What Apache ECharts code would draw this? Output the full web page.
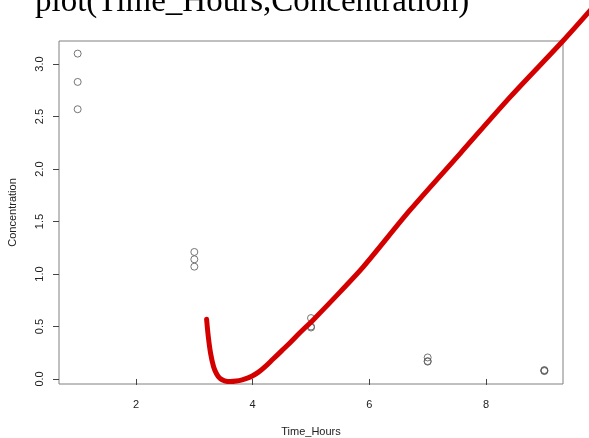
<!DOCTYPE html>
<html>
<head>
<meta charset="utf-8">
<script src="https://cdn.jsdelivr.net/npm/echarts@6/dist/echarts.min.js"></script>
<style>html,body{margin:0;padding:0;background:#fff;}#c{width:589px;height:438px;}</style>
</head>
<body>
<div id="c"></div>
<script>
var titleText = 'plot(Time_Hours,Concentration)';
var xName = 'Time_Hours';
var yName = 'Concentration';
var xTicks = [2, 4, 6, 8];
var yTicks = [0, 0.5, 1, 1.5, 2, 2.5, 3];
var timeHours = [1, 1, 1, 3, 3, 3, 5, 5, 5, 7, 7, 7, 9, 9, 9];
var concentration = [3.10, 2.83, 2.57, 1.21, 1.14, 1.07, 0.58, 0.50, 0.49, 0.205, 0.17, 0.165, 0.085, 0.08, 0.075];
var curveX = [3.21, 3.24, 3.28, 3.33, 3.38, 3.44, 3.52, 3.62, 3.72, 3.82, 3.92, 4.0, 4.1, 4.2, 4.35, 4.5, 4.65, 4.8, 5.05, 5.5, 5.9, 6.7, 7.56, 8.42, 9.31, 9.8];
var curveY = [0.57, 0.40, 0.24, 0.117, 0.05, 0.005, -0.018, -0.025, -0.02, -0.008, 0.01, 0.03, 0.065, 0.11, 0.19, 0.27, 0.35, 0.435, 0.57, 0.83, 1.07, 1.61, 2.15, 2.69, 3.215, 3.52];

var pts = timeHours.map(function (x, i) { return [x, concentration[i]]; });
var curve = curveX.map(function (x, i) { return [x, curveY[i]]; });

// layout of the plot box (pixels) and its axis ranges
var W = 589, H = 438;
var gL = 59, gR = 26, gT = 41, gB = 54;
var xMin = 0.68, xMax = 9.32, yMin = -0.048, yMax = 3.22;
// an invisible overlay grid covering the whole page with the same data->pixel mapping,
// so the fitted curve can run outside the plot box like in the original
var ux = (xMax - xMin) / (W - gL - gR), uy = (yMax - yMin) / (H - gT - gB);
var oxMin = xMin - gL * ux, oxMax = xMax + gR * ux;
var oyMin = yMin - gB * uy, oyMax = yMax + gT * uy;

var chart = echarts.init(document.getElementById('c'));
chart.setOption({
  animation: false,
  backgroundColor: '#fff',
  textStyle: { fontFamily: 'Liberation Sans, Arial, sans-serif' },
  graphic: [{
    type: 'text', x: 35, y: 19,
    style: { text: titleText, font: '33px "Liberation Serif", "Times New Roman", serif', fill: '#000', verticalAlign: 'bottom', align: 'left' }
  }],
  grid: [
    { left: gL, right: gR, top: gT, bottom: gB, outerBoundsMode: 'none', containLabel: false, show: true, borderColor: '#808080', borderWidth: 1, backgroundColor: 'transparent' },
    { left: 0, right: 0, top: 0, bottom: 0, outerBoundsMode: 'none', containLabel: false, show: false }
  ],
  xAxis: [{
    type: 'value', min: xMin, max: xMax, gridIndex: 0,
    name: xName, nameLocation: 'middle', nameGap: 42,
    nameTextStyle: { fontSize: 11, color: '#222' },
    axisLine: { show: false },
    splitLine: { show: false },
    axisTick: { show: true, length: 6, lineStyle: { color: '#444' }, customValues: xTicks },
    axisLabel: { fontSize: 11, color: '#222', margin: 15, customValues: xTicks, formatter: function (v) { return String(v); } }
  }, {
    type: 'value', min: oxMin, max: oxMax, gridIndex: 1, show: false
  }],
  yAxis: [{
    type: 'value', min: yMin, max: yMax, gridIndex: 0,
    name: yName, nameLocation: 'middle', nameGap: 41, nameRotate: 90,
    nameTextStyle: { fontSize: 11, color: '#222' },
    axisLine: { show: false },
    splitLine: { show: false },
    axisTick: { show: true, length: 6, lineStyle: { color: '#444' }, customValues: yTicks },
    axisLabel: { fontSize: 11, color: '#222', margin: 14, rotate: 90, customValues: yTicks, formatter: function (v) { return v.toFixed(1); } }
  }, {
    type: 'value', min: oyMin, max: oyMax, gridIndex: 1, show: false
  }],
  series: [{
    type: 'scatter', data: pts, symbol: 'circle', symbolSize: 7, xAxisIndex: 0, yAxisIndex: 0,
    itemStyle: { color: 'rgba(0,0,0,0)', borderColor: '#555', borderWidth: 1 }
  }, {
    type: 'line', data: curve, showSymbol: false, symbol: 'none', smooth: 0.3, clip: false,
    xAxisIndex: 1, yAxisIndex: 1,
    lineStyle: { color: '#d40000', width: 5, cap: 'round', join: 'round' }
  }]
});
</script>
</body>
</html>
